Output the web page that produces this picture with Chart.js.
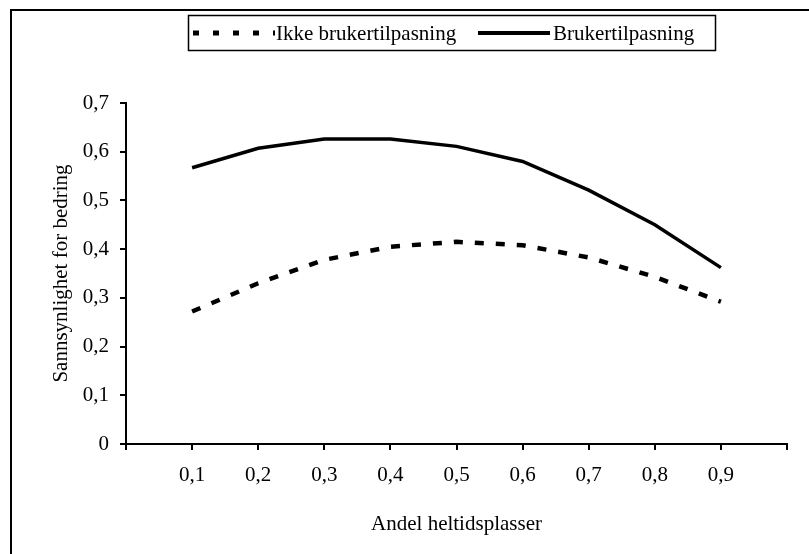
<!DOCTYPE html>
<html>
<head>
<meta charset="utf-8">
<script src="https://cdn.jsdelivr.net/npm/chart.js@4/dist/chart.umd.min.js"></script>
<style>
  html, body { margin: 0; padding: 0; background: #fff; }
  canvas { display: block; }
</style>
</head>
<body>
<canvas id="chart" width="809" height="554"></canvas>
<script>
// andel heltidsplasser (x) og sannsynlighet for bedring (y)
const andel = [0.1, 0.2, 0.3, 0.4, 0.5, 0.6, 0.7, 0.8, 0.9];
const ikkeBruker = [0.272, 0.330, 0.378, 0.405, 0.415, 0.408, 0.383, 0.343, 0.292];
const bruker = [0.567, 0.607, 0.626, 0.626, 0.611, 0.580, 0.521, 0.450, 0.362];
const xTickLabels = ['', '0,1', '0,2', '0,3', '0,4', '0,5', '0,6', '0,7', '0,8', '0,9', ''];
const yTickLabels = ['0', '0,1', '0,2', '0,3', '0,4', '0,5', '0,6', '0,7'];

const FONT = 'Liberation Serif';
const pts = vals => vals.map((v, i) => ({ x: andel[i], y: v }));

// outer frame + boxed legend, drawn like the old spreadsheet chart
const framePlugin = {
  id: 'frame',
  afterDraw(chart) {
    const c = chart.ctx;
    c.save();
    c.strokeStyle = '#000';
    c.lineWidth = 2;
    c.beginPath();
    c.moveTo(11, 554);
    c.lineTo(11, 10);
    c.lineTo(809, 10);
    c.stroke();

    // legend box
    c.lineWidth = 1.5;
    c.strokeRect(188.5, 15.5, 527, 35);

    const ds = chart.data.datasets;
    c.lineWidth = 5;
    c.setLineDash([6, 14]);
    c.beginPath();
    c.moveTo(193, 33);
    c.lineTo(275, 33);
    c.stroke();
    c.setLineDash([]);
    c.lineWidth = 4;
    c.beginPath();
    c.moveTo(478, 33);
    c.lineTo(550, 33);
    c.stroke();

    c.fillStyle = '#000';
    c.font = '21px "' + FONT + '"';
    c.textBaseline = 'alphabetic';
    c.fillText(ds[0].label, 276, 40);
    c.fillText(ds[1].label, 553, 40);
    c.restore();
  }
};

new Chart(document.getElementById('chart'), {
  type: 'line',
  data: {
    datasets: [
      {
        label: 'Ikke brukertilpasning',
        data: pts(ikkeBruker),
        borderColor: '#000',
        borderWidth: 4.5,
        borderDash: [9, 12],
        pointRadius: 0,
        tension: 0
      },
      {
        label: 'Brukertilpasning',
        data: pts(bruker),
        borderColor: '#000',
        borderWidth: 3.5,
        pointRadius: 0,
        tension: 0
      }
    ]
  },
  options: {
    responsive: false,
    animation: false,
    devicePixelRatio: 1,
    layout: { padding: { left: 46, top: 103, right: 22, bottom: 10 } },
    plugins: {
      legend: { display: false },
      tooltip: { enabled: false }
    },
    scales: {
      x: {
        type: 'linear',
        min: 0,
        max: 1,
        afterFit: s => { s.height = 100; },
        afterBuildTicks: s => { s.ticks = xTickLabels.map((t, i) => ({ value: i / 10 })); },
        ticks: {
          color: '#000',
          font: { family: FONT, size: 21 },
          padding: 13,
          maxRotation: 0,
          autoSkip: false,
          callback: (v, i) => xTickLabels[i]
        },
        grid: { drawOnChartArea: false, color: '#000', lineWidth: 2, tickLength: 6 },
        border: { color: '#000', width: 2 },
        title: {
          display: true,
          text: 'Andel heltidsplasser',
          color: '#000',
          font: { family: FONT, size: 21 },
          padding: { top: 0, bottom: 7 }
        }
      },
      y: {
        min: 0,
        max: 0.7,
        afterFit: s => { s.width = 80; },
        afterBuildTicks: s => { s.ticks = yTickLabels.map((t, i) => ({ value: i / 10 })); },
        ticks: {
          color: '#000',
          font: { family: FONT, size: 21 },
          padding: 11,
          callback: (v, i) => yTickLabels[i]
        },
        grid: { drawOnChartArea: false, color: '#000', lineWidth: 2, tickLength: 6 },
        border: { color: '#000', width: 2 },
        title: {
          display: true,
          text: 'Sannsynlighet for bedring',
          color: '#000',
          font: { family: FONT, size: 21 },
          padding: { top: 3, bottom: 0 }
        }
      }
    }
  },
  plugins: [framePlugin]
});
</script>
</body>
</html>
